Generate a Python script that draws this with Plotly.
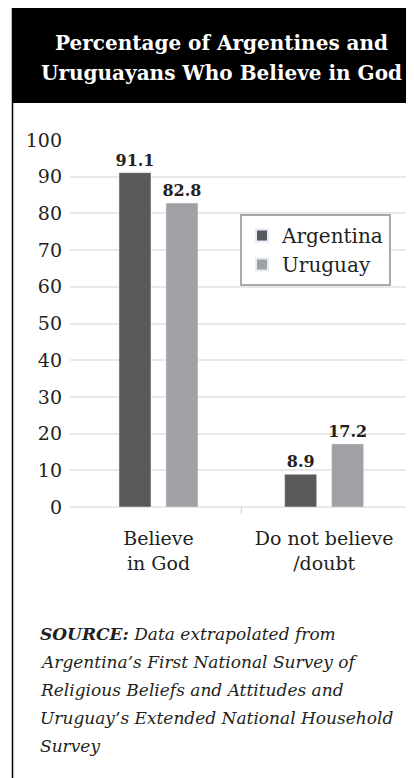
import plotly.graph_objects as go

categories = ["Believe<br>in God", "Do not believe<br>/doubt"]
argentina = [91.1, 8.9]
uruguay = [82.8, 17.2]
y_ticks = [0, 10, 20, 30, 40, 50, 60, 70, 80, 90, 100]
title_lines = ["Percentage of Argentines and", "Uruguayans Who Believe in God"]
source_lines = ["<b>SOURCE:</b> Data extrapolated from",
                "Argentina’s First National Survey of",
                "Religious Beliefs and Attitudes and",
                "Uruguay’s Extended National Household",
                "Survey"]

# page has an 8px body margin; figure spans page px 8..414 x 8..778
OFF = 8
W, H = 406, 770
def px(x): return (x - OFF) / W
def py(y): return 1 - (y - OFF) / H

SERIF = "DejaVu Serif"
TXT = "#231f20"

fig = go.Figure()
for name, vals, col in [("Argentina", argentina, "#58595b"), ("Uruguay", uruguay, "#a0a1a4")]:
    fig.add_trace(go.Bar(name=name, x=categories, y=vals, marker_color=col,
                         text=vals, texttemplate="<b>%{text:.1f}</b>", textposition="outside",
                         constraintext="none",
                         textfont=dict(family=SERIF, size=16, color=TXT), cliponaxis=False))

fig.update_layout(
    width=W, height=H, margin=dict(l=0, r=0, t=0, b=0, pad=0, autoexpand=False),
    paper_bgcolor="white", plot_bgcolor="white",
    barmode="group", bargap=0.433, bargroupgap=0.319,
    font=dict(family=SERIF, color=TXT),
    showlegend=True,
    legend=dict(x=px(240), y=py(214), xanchor="left", yanchor="top",
                bordercolor="#a7a9ac", borderwidth=2, bgcolor="white",
                font=dict(family=SERIF, size=20, color=TXT),
                tracegroupgap=0, itemsizing="constant"),
    xaxis=dict(domain=[px(70), px(407)], range=[-0.534, 1.5], showgrid=False,
               showline=False, zeroline=False, ticks="", automargin=False,
               tickfont=dict(family=SERIF, size=19, color=TXT), ticklabelstandoff=18),
    yaxis=dict(domain=[py(507), py(140)], range=[0, 100], tickvals=y_ticks,
               showgrid=True, gridcolor="#e8e8e8", gridwidth=1.5, automargin=False,
               zeroline=True, zerolinecolor="#e8e8e8", zerolinewidth=1.5,
               showline=False, ticks="", ticklabelstandoff=7,
               tickfont=dict(family=SERIF, size=19, color=TXT)),
)

# title box
fig.add_shape(type="rect", xref="paper", yref="paper", x0=px(12), x1=1.0, y0=py(103), y1=py(7),
              fillcolor="black", line=dict(width=0), layer="below")
# left border
fig.add_shape(type="line", xref="paper", yref="paper", x0=px(12.5), x1=px(12.5), y0=0, y1=py(7),
              line=dict(color="black", width=1.5))
# category divider tick
fig.add_shape(type="line", xref="x", yref="paper", x0=0.5, x1=0.5, y0=py(507), y1=py(514),
              line=dict(color="#d0d0d0", width=1))

for line, yy in zip(title_lines, [43, 73]):
    fig.add_annotation(xref="paper", yref="paper", x=px(221), y=py(yy), xanchor="center", yanchor="middle",
                       text=f"<b>{line}</b>", showarrow=False,
                       font=dict(family=SERIF, size=20, color="white"))

for line, yy in zip(source_lines, [634, 662, 690, 718, 746]):
    fig.add_annotation(xref="paper", yref="paper", x=px(38), y=py(yy), xanchor="left", yanchor="middle",
                       text=f"<i>{line}</i>", showarrow=False, align="left",
                       font=dict(family=SERIF, size=17, color=TXT))

fig.write_html("out.html")
